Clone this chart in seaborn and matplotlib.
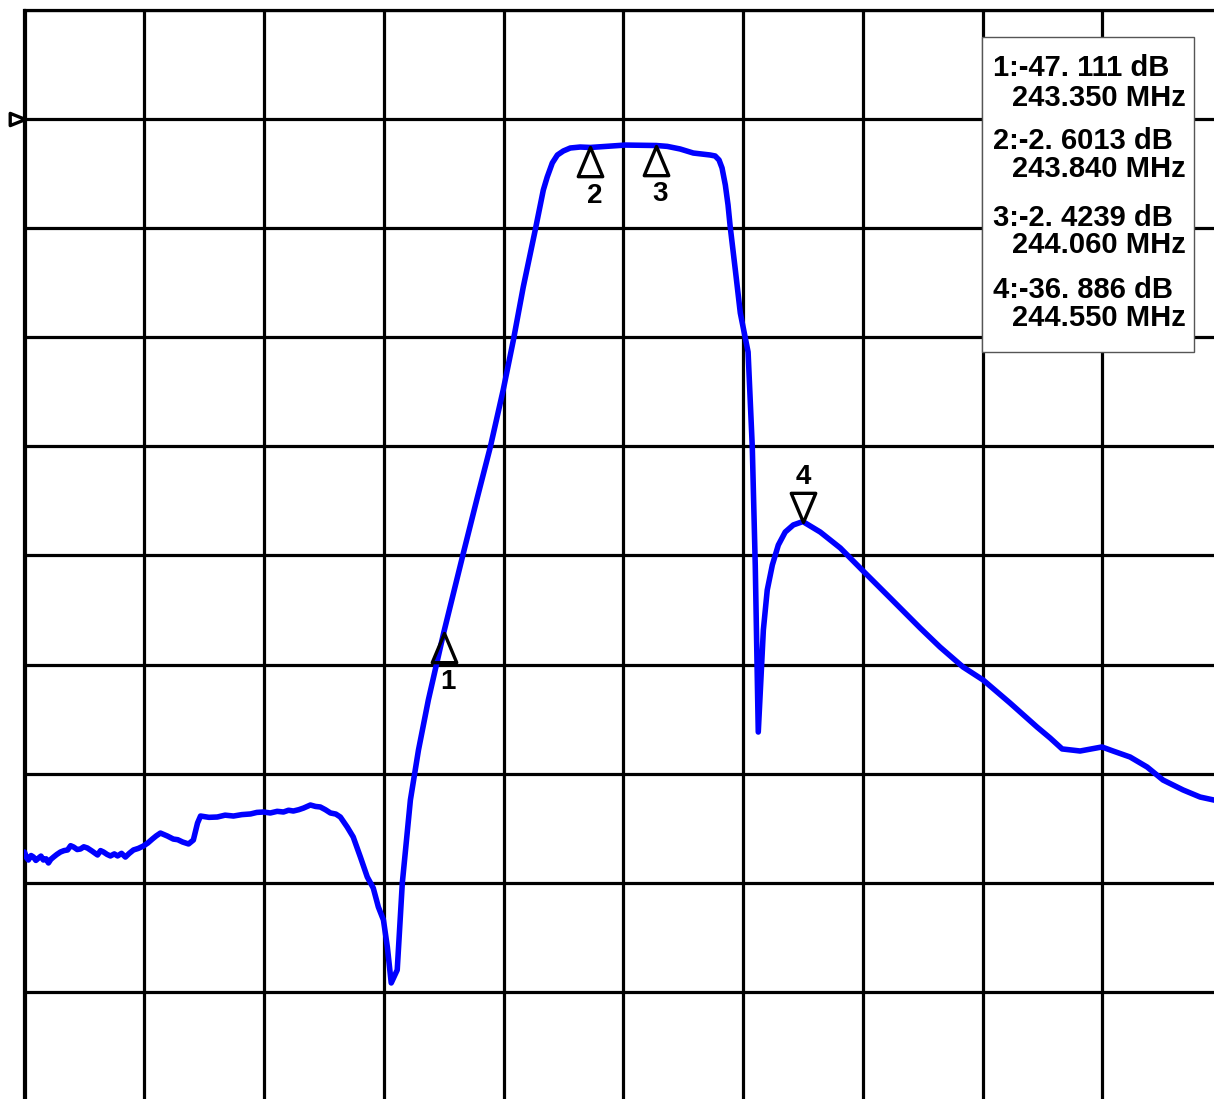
import numpy as np
import pandas as pd
import seaborn as sns
import matplotlib

matplotlib.use("Agg")

import matplotlib.pyplot as plt
from matplotlib.path import Path
from matplotlib.patches import Rectangle

# analyzer sweep: 241.95 .. 245.95 MHz, 0.4 MHz/div, +10 .. -90 dB, 10 dB/div
f_start = 241.95
f_stop = 245.95
db_top = 10
db_bottom = -90
ref_level = 0

freq_mhz = [
    241.950, 241.957, 241.963, 241.972, 241.980, 241.988, 241.997, 242.005,
    242.013, 242.022, 242.030, 242.038, 242.047, 242.058, 242.070, 242.082,
    242.094, 242.104, 242.114, 242.126, 242.137, 242.148, 242.160, 242.176,
    242.194, 242.204, 242.214, 242.226, 242.237, 242.250, 242.261, 242.274,
    242.287, 242.300, 242.314, 242.330, 242.347, 242.362, 242.377, 242.390,
    242.404, 242.427, 242.447, 242.462, 242.478, 242.498, 242.514, 242.528,
    242.538, 242.566, 242.594, 242.620, 242.648, 242.676, 242.705, 242.726,
    242.748, 242.771, 242.794, 242.815, 242.832, 242.848, 242.866, 242.882,
    242.905, 242.922, 242.938, 242.955, 242.972, 242.990, 243.005, 243.028,
    243.048, 243.072, 243.095, 243.115, 243.132, 243.149, 243.162, 243.175,
    243.195, 243.212, 243.239, 243.266, 243.299, 243.350, 243.416, 243.463,
    243.506, 243.549, 243.583, 243.616, 243.656, 243.683, 243.696, 243.713,
    243.730, 243.750, 243.773, 243.806, 243.840, 243.957, 244.060, 244.097,
    244.140, 244.184, 244.240, 244.257, 244.270, 244.280, 244.291, 244.300,
    244.307, 244.324, 244.341, 244.367, 244.381, 244.391, 244.401, 244.408,
    244.418, 244.431, 244.448, 244.468, 244.491, 244.518, 244.550, 244.608,
    244.675, 244.748, 244.842, 244.942, 245.008, 245.085, 245.152, 245.242,
    245.332, 245.376, 245.416, 245.476, 245.549, 245.586, 245.643, 245.700,
    245.753, 245.820, 245.877, 245.923, 245.950,
]
s21_db = [
    -67.18, -67.70, -67.91, -67.50, -67.64, -67.95, -67.73, -67.55,
    -67.91, -67.80, -68.18, -67.85, -67.64, -67.40, -67.18, -67.05,
    -66.99, -66.60, -66.72, -66.95, -66.90, -66.70, -66.81, -67.10,
    -67.45, -67.05, -67.18, -67.40, -67.54, -67.35, -67.54, -67.30,
    -67.64, -67.30, -66.99, -66.85, -66.63, -66.35, -65.99, -65.70,
    -65.44, -65.71, -65.99, -66.05, -66.26, -66.44, -66.08, -64.52,
    -63.88, -64.00, -63.97, -63.80, -63.88, -63.75, -63.69, -63.55,
    -63.51, -63.60, -63.45, -63.51, -63.35, -63.42, -63.30, -63.15,
    -62.87, -63.00, -63.05, -63.30, -63.60, -63.70, -63.97, -64.89,
    -65.80, -67.64, -69.47, -70.48, -72.22, -73.41, -75.88, -79.18,
    -77.99, -70.02, -62.41, -57.83, -53.24, -47.11, -39.77, -34.64,
    -30.05, -24.83, -20.25, -15.39, -10.17, -6.50, -5.31, -4.02,
    -3.29, -2.92, -2.65, -2.56, -2.60, -2.38, -2.42, -2.50,
    -2.74, -3.11, -3.29, -3.38, -3.75, -4.48, -6.04, -7.87,
    -9.80, -13.74, -17.77, -21.35, -30.05, -40.96, -56.18, -52.33,
    -46.83, -43.16, -40.87, -39.04, -37.85, -37.20, -36.89, -37.85,
    -39.31, -41.33, -43.90, -46.65, -48.39, -50.22, -51.41, -53.52,
    -55.72, -56.73, -57.73, -57.92, -57.55, -57.92, -58.47, -59.39,
    -60.58, -61.49, -62.14, -62.41, -62.60,
]

marker_ids = ["1", "2", "3", "4"]
marker_freq = [243.350, 243.840, 244.060, 244.550]
marker_db = [-47.111, -2.6013, -2.4239, -36.886]
readout = [
    ("1:-47. 111 dB", "243.350 MHz"),
    ("2:-2. 6013 dB", "243.840 MHz"),
    ("3:-2. 4239 dB", "244.060 MHz"),
    ("4:-36. 886 dB", "244.550 MHz"),
]

W, H = 1214, 1099


def fx(x):
    return x / W


def fy(y):
    return 1 - y / H


sns.set_style("white")
plt.rcParams["font.family"] = ["Liberation Sans", "DejaVu Sans"]
plt.rcParams["text.color"] = "black"

fig = plt.figure(figsize=(W / 100, H / 100), dpi=100)
# screen is cropped: right and bottom edge of the graticule fall outside
ax = fig.add_axes([fx(24.5), fy(1101), (1222 - 24.5) / W, (1101 - 10) / H])

ax.set_xlim(f_start, f_stop)
ax.set_ylim(db_bottom, db_top)
ax.set_xticks(np.linspace(f_start, f_stop, 11))
ax.set_yticks(np.arange(db_bottom, db_top + 1, 10))
ax.grid(True, color="black", linewidth=2.3)
ax.tick_params(length=0, labelbottom=False, labelleft=False)
for s in ax.spines.values():
    s.set_color("black")
    s.set_linewidth(2.3)

trace = pd.DataFrame({"freq": freq_mhz, "db": s21_db})
sns.lineplot(data=trace, x="freq", y="db", ax=ax, color="#0000ff",
             linewidth=4.0, sort=False, estimator=None, zorder=3)

# marker triangles: apex sits on the trace
up = Path([(0, 0), (-0.42, -1), (0.42, -1), (0, 0)],
          [Path.MOVETO, Path.LINETO, Path.LINETO, Path.CLOSEPOLY])
down = Path([(0, 0), (-0.42, 1), (0.42, 1), (0, 0)],
            [Path.MOVETO, Path.LINETO, Path.LINETO, Path.CLOSEPOLY])
for mid, mf, md in zip(marker_ids, marker_freq, marker_db):
    is_up = mid != "4"
    ax.plot([mf], [md], marker=up if is_up else down, markersize=42,
            markerfacecolor="none", markeredgecolor="black",
            markeredgewidth=2.4, linestyle="none", zorder=4)
    ax.annotate(mid, (mf, md), xytext=(3 if is_up else 0, -35 if is_up else 32),
                textcoords="offset points", ha="center", va="center",
                fontsize=20, fontweight="bold", color="black", zorder=4)

# reference level pointer on the left edge
ref = Path([(0, 0), (-1, 0.4), (-1, -0.4), (0, 0)],
           [Path.MOVETO, Path.LINETO, Path.LINETO, Path.CLOSEPOLY])
ax.plot([f_start], [ref_level], marker=ref, markersize=22,
        markerfacecolor="none", markeredgecolor="black", markeredgewidth=2.4,
        linestyle="none", clip_on=False, zorder=5)

# marker readout box
fig.patches.append(Rectangle((fx(982), fy(352)), 212 / W, 315 / H,
                             transform=fig.transFigure, facecolor="white",
                             edgecolor="#555555", linewidth=1.0, zorder=5))
line_y = [(68, 98), (141, 169), (218, 245), (290, 318)]
for (l1, l2), (y1, y2) in zip(readout, line_y):
    fig.text(fx(993), fy(y1), l1, ha="left", va="center", fontsize=21,
             fontweight="bold", color="black", zorder=6)
    fig.text(fx(1186), fy(y2), l2, ha="right", va="center", fontsize=21,
             fontweight="bold", color="black", zorder=6)

fig.savefig("out.png", dpi=100)
